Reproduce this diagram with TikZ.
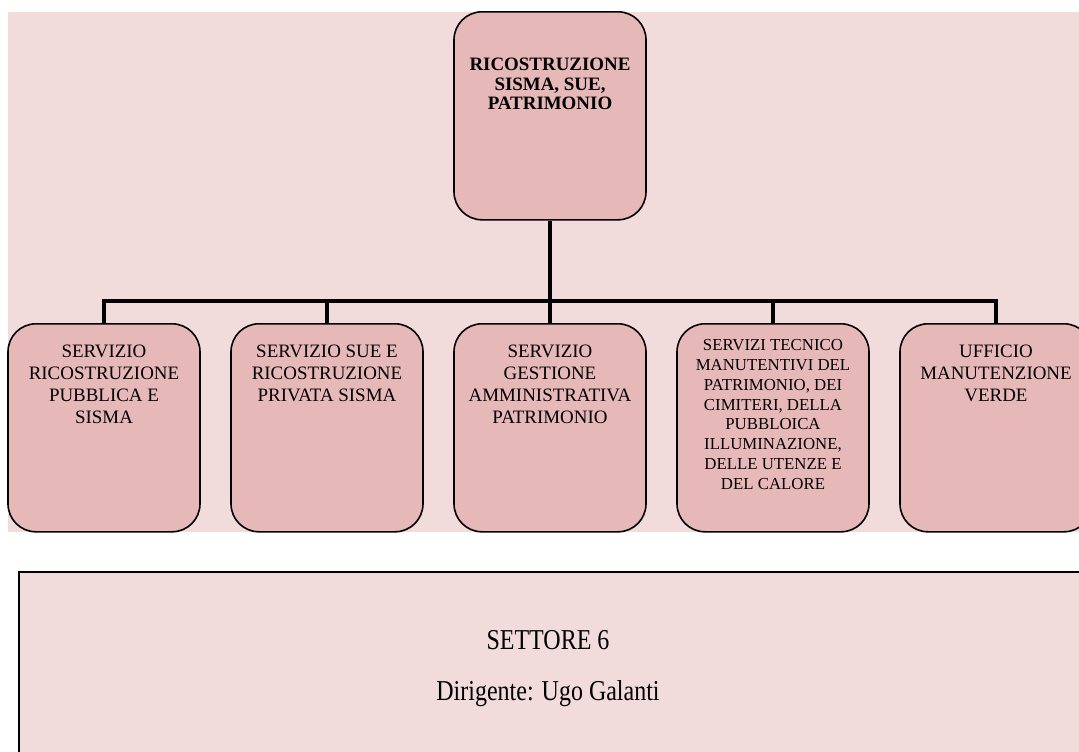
\documentclass[tikz,border=0pt]{standalone}
\usepackage{fontspec}
\setmainfont{Liberation Serif}
\usetikzlibrary{positioning}
\definecolor{sfondo}{HTML}{F2DCDB}
\definecolor{rosa}{HTML}{E6B9B8}
\begin{document}
\begin{tikzpicture}[x=0.75pt, y=-0.75pt,
    ufficio/.style={draw=black, line width=1.2pt, fill=rosa, rounded corners=21pt,
      minimum width=144pt, minimum height=156pt, anchor=north},
    testo/.style={align=center, inner sep=0pt, anchor=north,
      font=\fontsize{14.2}{16.3}\selectfont},
    linea/.style={line width=3.3pt, line join=miter}]
    \clip (0,0) rectangle (1079,751);
    \fill[sfondo] (8,12) rectangle (1079,532);
    % settore
    \node[ufficio] (sett) at (550,11) {};
    \node[testo, font=\bfseries\fontsize{14.2}{14.6}\selectfont] (settt) at (550,58)
      {RICOSTRUZIONE\\SISMA, SUE,\\PATRIMONIO};
    % servizi
    \node[ufficio] (s1) at (104,323) {};
    \node[ufficio] (s2) at (327,323) {};
    \node[ufficio] (s3) at (550,323) {};
    \node[ufficio] (s4) at (773,323) {};
    \node[ufficio] (s5) at (996,323) {};
    \node[testo] (s1t) at (104,345) {SERVIZIO\\RICOSTRUZIONE\\PUBBLICA E\\SISMA};
    \node[testo] (s2t) at (327,345) {SERVIZIO SUE E\\RICOSTRUZIONE\\PRIVATA SISMA};
    \node[testo] (s3t) at (550,345) {SERVIZIO\\GESTIONE\\AMMINISTRATIVA\\PATRIMONIO};
    \node[testo, font=\fontsize{12.6}{14.9}\selectfont] (s4t) at (773,339)
      {SERVIZI TECNICO\\MANUTENTIVI DEL\\PATRIMONIO, DEI\\CIMITERI, DELLA\\PUBBLOICA\\ILLUMINAZIONE,\\DELLE UTENZE E\\DEL CALORE};
    \node[testo] (s5t) at (996,345) {UFFICIO\\MANUTENZIONE\\VERDE};
    % collegamenti
    \coordinate (bar) at (550,301);
    \draw[linea] (sett.south) -- (bar);
    \foreach \s in {s1,s2,s3,s4,s5}
      \draw[linea] (\s.north) |- (bar);
    % riquadro dirigente
    \draw[line width=1.5pt, fill=sfondo] (19,572) rectangle (1100,770);
    \node[testo, font=\fontsize{18}{20}\selectfont] (nome) at (548,630)
      {\scalebox{1}[1.2]{SETTORE 6}};
    \node[testo, font=\fontsize{18}{20}\selectfont] (dir) at (548,680)
      {\scalebox{1}[1.2]{Dirigente: Ugo Galanti}};
\end{tikzpicture}
\end{document}
